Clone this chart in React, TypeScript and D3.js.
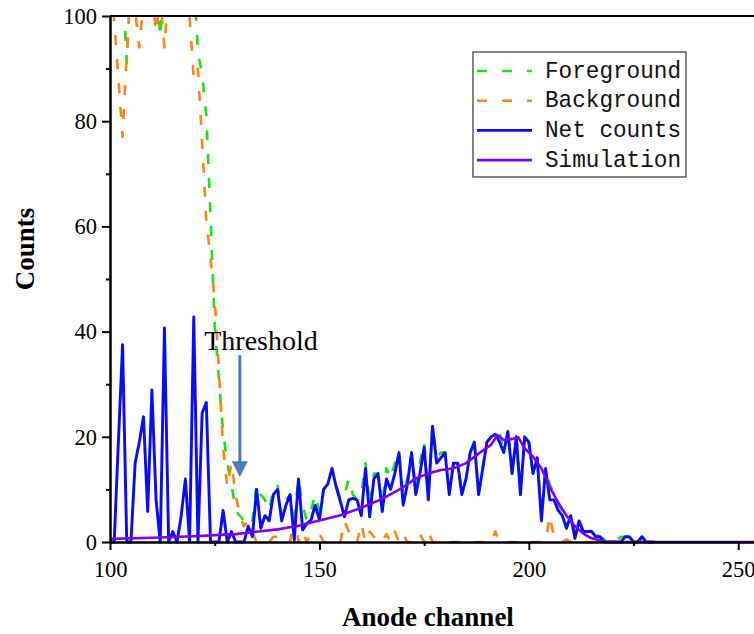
import React, { useEffect, useRef } from 'react';
import * as d3 from 'd3';

const W = 754;
const H = 634;

// channel numbers 100..230, one value per channel
const channels = d3.range(100, 231);

const foreground = [
  115, 112, 110, 108, 91, 108, 115, 110, 118, 112,
  115, 108, 96, 108, 112, 118, 110, 114, 116, 112,
  108, 93, 89, 81, 62, 41, 31, 21, 15, 11,
  6, 5, 4, 5, 4, 11, 9, 8, 6, 10,
  11, 5, 8, 9, 5, 12, 7, 4, 6, 9,
  6, 10, 11, 14, 11, 8, 9, 12, 9, 8,
  9, 15, 7, 13, 13, 7, 14, 12, 15, 17,
  9, 12, 17, 10, 15, 19, 10, 22, 16, 17,
  17, 9, 15, 15, 10, 12, 17, 19, 9, 14,
  19, 20, 21, 21, 17, 21, 13, 20, 9, 20,
  19, 13, 16, 5, 14, 11, 9, 7, 6, 3,
  5, 1.5, 4, 2, 2, 2, 1.5, 1, 0.5, 0,
  0, 0.3, 1, 1, 1, 0, 0, 1, 0, 0,
  0,
];

const background = [
  110, 99, 88, 77, 93, 106, 101, 94, 103, 110,
  105, 97, 104, 94, 106, 110, 108, 112, 104, 100,
  88, 90, 76, 61, 54, 46, 33, 18, 10.5, 15,
  9, 5, 3, 4, 2, 0, 0, 0, 0, 1,
  1, 0, 0, 0, 5, 0, 2, 0, 1.5, 1.5,
  1.5, 0, 0, 0, 0, 0, 4, 2, 0, 0,
  3.5, 0, 2, 1, 0, 0, 1.5, 0, 2, 0,
  1.5, 0, 0, 1.5, 1.5, 0, 2, 0, 0, 0,
  0, 0, 0, 0, 0, 0, 0, 0, 0, 0,
  0, 0, 2, 0, 0, 0, 0, 0, 0, 0,
  0, 0, 0, 0, 0, 5, 1, 0.5, 0, 0.5,
  0, 0, 0, 0, 0, 0, 0, 0, 0, 0,
  0, 0, 0, 0, 0, 0, 0, 0, 0, 0,
  0,
];

const netCounts = [
  0, 0, 19, 37.5, 0, 0, 15, 19, 23.8, 5.8,
  28.9, 8, 0, 40.7, 0, 2, 0, 5, 12, 0,
  42.8, 0, 24.5, 26.5, 0, 0, 0, 6, 0, 2,
  0, 0, 0, 3, 1, 10, 2.6, 5, 4, 9,
  10, 4, 7, 9, 0.4, 12, 2.3, 3.5, 4.2, 7,
  4.2, 10, 11, 14, 10.5, 7.7, 4.8, 8, 8.3, 8,
  5, 14, 4.8, 12, 13, 5.8, 12, 10, 13, 17,
  7, 11, 17, 9, 13, 18, 8, 22, 15, 16,
  17, 9, 15, 15, 9, 12, 17, 19, 9, 14,
  19, 20, 20.5, 19, 17, 21, 13, 20, 9, 20,
  19, 13, 16, 4, 14, 8, 8, 6, 5, 2.6,
  5, 0.7, 4, 2, 2, 2, 1, 1, 0, 0,
  0, 0, 0, 1, 1, 0, 0, 1, 0, 0,
  0,
];

const simChannels = [
  100, 110, 120, 130, 140, 145, 150, 155, 160, 165, 170, 173, 176, 179, 182,
  185, 188, 191, 192.5, 194, 196, 197.5, 199, 201, 203, 205, 207, 209, 211,
  213, 215, 217, 219, 254,
];
const simulation = [
  0.6, 0.8, 1.1, 1.5, 2.4, 3.1, 4.1, 5.1, 6.5, 8.2, 10.4, 12.1, 13, 13.7, 14,
  15, 16.8, 18.5, 20.3, 19.4, 19.6, 19.9, 17.8, 16.2, 14, 10.5, 7.5, 5, 3,
  1.6, 0.7, 0.3, 0, 0,
];

const yMajor = [0, 20, 40, 60, 80, 100];
const yMinor = [10, 30, 50, 70, 90];
const xMajor = [100, 150, 200, 250];
const xMinor = [125, 175, 225];

const legendNames = ['Foreground', 'Background', 'Net counts', 'Simulation'];
const legendColors = ['#14e614', '#ff8410', '#0a0aff', '#8000ff'];
const legendDashed = [true, true, false, false];

// threshold annotation, in data units
const thresholdChannel = 131;
const arrowFrom = 35.5;
const arrowTo = 12.3;

const serif = '"Liberation Serif", "Times New Roman", serif';

const App = () => {
  const xAxisRef = useRef(null);
  const xMinorRef = useRef(null);
  const yAxisRef = useRef(null);
  const yMinorRef = useRef(null);

  const x = d3.scaleLinear().domain([100, 254]).range([110, 755]);
  const y = d3.scaleLinear().domain([0, 100]).range([542, 16]);

  const line = d3.line<[number, number]>()
    .x((d) => x(d[0]))
    .y((d) => y(d[1]));

  const fgPath = line(channels.map((c, i) => [c, foreground[i]]));
  const bgPath = line(channels.map((c, i) => [c, background[i]]));
  const netPath = line(channels.map((c, i) => [c, netCounts[i]]));
  const simPath = line(simChannels.map((c, i) => [c, simulation[i]]));

  useEffect(() => {
    const styleAxis = (g, labels) => {
      g.attr('font-family', serif).attr('font-size', 22.5);
      g.selectAll('.tick line').attr('stroke-width', 2);
      g.select('.domain').attr('stroke-width', 2);
      if (!labels) g.selectAll('text').remove();
    };
    const ya = d3.select(yAxisRef.current);
    ya.call(d3.axisLeft(y).tickValues(yMajor).tickSize(8).tickSizeOuter(0).tickPadding(5));
    styleAxis(ya, true);
    const ym = d3.select(yMinorRef.current);
    ym.call(d3.axisLeft(y).tickValues(yMinor).tickSize(4).tickSizeOuter(0));
    styleAxis(ym, false);

    const xa = d3.select(xAxisRef.current);
    xa.call(d3.axisBottom(x).tickValues(xMajor).tickSize(8).tickSizeOuter(0).tickPadding(11));
    styleAxis(xa, true);
    const xm = d3.select(xMinorRef.current);
    xm.call(d3.axisBottom(x).tickValues(xMinor).tickSize(4).tickSizeOuter(0));
    styleAxis(xm, false);
  }, []);

  const [x0, x1] = x.range();
  const [yb, yt] = y.range();

  return (
    <svg width={W} height={H} style={{ position: 'absolute', left: 0, top: 0, background: '#fff' }}>
      <defs>
        <clipPath id="plot">
          <rect x={x0} y={yt - 1} width={x1 - x0} height={yb - yt + 4} />
        </clipPath>
      </defs>

      <g clipPath="url(#plot)" fill="none" strokeLinejoin="round">
        <path d={fgPath} stroke={legendColors[0]} strokeWidth={2.6} strokeDasharray="10,14" />
        <path d={bgPath} stroke={legendColors[1]} strokeWidth={2.6} strokeDasharray="10,14" />
        <path d={netPath} stroke={legendColors[2]} strokeWidth={2.9} />
        <path d={simPath} stroke={legendColors[3]} strokeWidth={2.6} />
      </g>

      {/* frame top line */}
      <line x1={x0} x2={x1} y1={yt} y2={yt} stroke="#000" strokeWidth={2} />

      <g ref={yMinorRef} transform={`translate(${x0},0)`} />
      <g ref={yAxisRef} transform={`translate(${x0},0)`} />
      <g ref={xMinorRef} transform={`translate(0,${yb})`} />
      <g ref={xAxisRef} transform={`translate(0,${yb})`} />

      <text
        transform={`translate(34,${(yt + yb) / 2 - 30}) rotate(-90)`}
        textAnchor="middle"
        fontFamily={serif}
        fontWeight="bold"
        fontSize={27}
      >
        Counts
      </text>
      <text x={428} y={626} textAnchor="middle" fontFamily={serif} fontWeight="bold" fontSize={27}>
        Anode channel
      </text>

      {/* threshold annotation */}
      <text x={x(122.5)} y={y(36.5)} fontFamily={serif} fontSize={28}>
        Threshold
      </text>
      <line
        x1={x(thresholdChannel)}
        x2={x(thresholdChannel)}
        y1={y(arrowFrom)}
        y2={y(arrowTo) - 14}
        stroke="#4a7ebb"
        strokeWidth={3}
      />
      <path
        d={`M${x(thresholdChannel) - 8},${y(arrowTo) - 16} L${x(thresholdChannel) + 8},${y(arrowTo) - 16} L${x(thresholdChannel)},${y(arrowTo)} Z`}
        fill="#4a7ebb"
      />

      {/* legend */}
      <g>
        <rect x={473} y={52} width={213} height={125} fill="#fff" stroke="#333" strokeWidth={1.2} />
        {legendNames.map((name, i) => {
          const ly = 71 + i * 29.7;
          return (
            <g key={name}>
              <line
                x1={477}
                x2={532}
                y1={ly}
                y2={ly}
                stroke={legendColors[i]}
                strokeWidth={2.6}
                strokeDasharray={legendDashed[i] ? '10,15' : undefined}
              />
              <text
                x={545}
                y={ly}
                dominantBaseline="central"
                fontFamily='"Liberation Mono", "DejaVu Sans Mono", monospace'
                fontSize={24}
                textLength={136}
                lengthAdjust="spacingAndGlyphs"
                fill="#111"
              >
                {name}
              </text>
            </g>
          );
        })}
      </g>
    </svg>
  );
};

export default App;
